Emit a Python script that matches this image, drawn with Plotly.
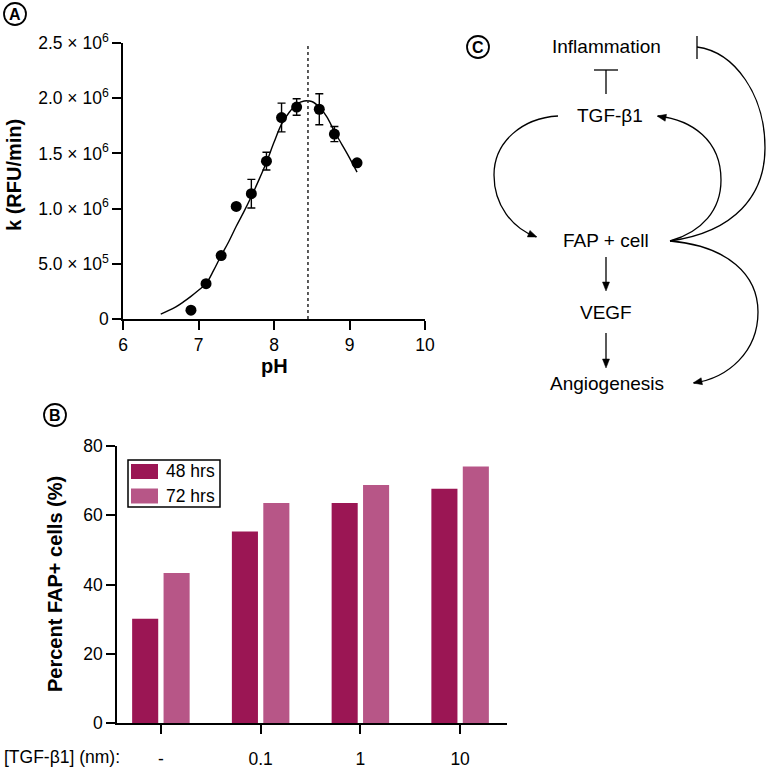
import math
import plotly.graph_objects as go

# ---------------- data ----------------
# Panel A: activity vs pH
ph_points = [6.9, 7.1, 7.3, 7.5, 7.7, 7.9, 8.1, 8.3, 8.6, 8.8, 9.1]
k_points = [0.08e6, 0.32e6, 0.575e6, 1.02e6, 1.135e6, 1.43e6, 1.825e6, 1.92e6, 1.90e6, 1.675e6, 1.415e6]
k_errors = [0, 0, 0, 0, 0.13e6, 0.08e6, 0.13e6, 0.075e6, 0.14e6, 0.068e6, 0]
ph_fit = [6.5, 6.6, 6.7, 6.8, 6.9, 7.0, 7.1, 7.2, 7.3, 7.4, 7.5, 7.6, 7.7, 7.8, 7.9,
          8.0, 8.1, 8.2, 8.3, 8.4, 8.5, 8.6, 8.7, 8.8, 8.9, 9.0, 9.1]
k_fit = [0.045e6, 0.075e6, 0.11e6, 0.155e6, 0.205e6, 0.26e6, 0.32e6, 0.44e6, 0.575e6, 0.70e6,
         0.84e6, 0.97e6, 1.11e6, 1.26e6, 1.42e6, 1.60e6, 1.765e6, 1.87e6, 1.945e6, 1.975e6,
         1.97e6, 1.92e6, 1.83e6, 1.70e6, 1.58e6, 1.46e6, 1.33e6]
ph_optimum = 8.45
a_yticks = [0, 0.5e6, 1.0e6, 1.5e6, 2.0e6, 2.5e6]
a_yticktext = ["0", "5.0 × 10<sup>5</sup>", "1.0 × 10<sup>6</sup>", "1.5 × 10<sup>6</sup>",
               "2.0 × 10<sup>6</sup>", "2.5 × 10<sup>6</sup>"]
a_xticks = [6, 7, 8, 9, 10]

# Panel B: percent FAP+ cells
tgf_doses = ["-", "0.1", "1", "10"]
pct_48h = [30.1, 55.3, 63.5, 67.6]
pct_72h = [43.3, 63.5, 68.7, 74.0]
b_yticks = [0, 20, 40, 60, 80]

# ---------------- helpers ----------------
W, H = 767, 772
FONT = "Liberation Sans"
COL48 = "#9B1654"
COL72 = "#B75687"


def px(x):
    return x / W


def py(y):
    return 1 - y / H


def bez_path(points):
    """points: start then triplets of (c1, c2, end) in pixel coords"""
    s = f"M {px(points[0][0])},{py(points[0][1])}"
    for i in range(1, len(points), 3):
        c1, c2, e = points[i], points[i + 1], points[i + 2]
        s += f" C {px(c1[0])},{py(c1[1])} {px(c2[0])},{py(c2[1])} {px(e[0])},{py(e[1])}"
    return s


def arrow_head(tip, frm, L=9, w=3.5):
    dx, dy = tip[0] - frm[0], tip[1] - frm[1]
    n = math.hypot(dx, dy)
    dx, dy = dx / n, dy / n
    bx, by = tip[0] - L * dx, tip[1] - L * dy
    nx, ny = -dy, dx
    p1 = (bx + w * nx, by + w * ny)
    p2 = (bx - w * nx, by - w * ny)
    return (f"M {px(tip[0])},{py(tip[1])} L {px(p1[0])},{py(p1[1])} "
            f"L {px(p2[0])},{py(p2[1])} Z")


def text(txt, x, y, size, xanchor="center", angle=0):
    return dict(x=px(x), y=py(y), xref="paper", yref="paper", text=txt, showarrow=False,
                xanchor=xanchor, yanchor="middle", textangle=angle,
                font=dict(family=FONT, size=size, color="black"))


fig = go.Figure()

# ---------------- Panel A ----------------
fig.add_trace(go.Scatter(x=ph_fit, y=k_fit, mode="lines", line=dict(color="black", width=1.4, shape="spline"),
                         xaxis="x", yaxis="y", showlegend=False, hoverinfo="skip"))
fig.add_trace(go.Scatter(x=[ph_optimum, ph_optimum], y=[0, a_yticks[-1]], mode="lines",
                         line=dict(color="#333333", width=1.6, dash="dot"),
                         xaxis="x", yaxis="y", showlegend=False, hoverinfo="skip"))
fig.add_trace(go.Scatter(x=ph_points, y=k_points, mode="markers",
                         marker=dict(color="black", size=11),
                         error_y=dict(type="data", array=k_errors, visible=True, color="black",
                                      thickness=1.4, width=4),
                         xaxis="x", yaxis="y", showlegend=False))

# ---------------- Panel B ----------------
fig.add_trace(go.Bar(x=tgf_doses, y=pct_48h, name="48 hrs", marker=dict(color=COL48, line=dict(width=0)),
                     xaxis="x2", yaxis="y2", showlegend=False))
fig.add_trace(go.Bar(x=tgf_doses, y=pct_72h, name="72 hrs", marker=dict(color=COL72, line=dict(width=0)),
                     xaxis="x2", yaxis="y2", showlegend=False))

tickfont = dict(family=FONT, size=17.5, color="black")
axis_common = dict(showgrid=False, zeroline=False, showline=True, linecolor="black", linewidth=1.5,
                   ticks="outside", ticklen=9, tickwidth=1.5, tickcolor="black", tickfont=tickfont,
                   automargin=False)

fig.update_layout(
    template="none",
    width=W, height=H, margin=dict(l=0, r=0, t=0, b=0, pad=0, autoexpand=False),
    paper_bgcolor="white", plot_bgcolor="white",
    barmode="group", bargap=0.37, bargroupgap=0.17,
    xaxis=dict(domain=[px(123), px(425)], range=[6, 10], tickvals=a_xticks, anchor="y", **axis_common),
    yaxis=dict(domain=[py(319), py(43)], range=[0, 2.5e6], tickvals=a_yticks, ticktext=a_yticktext,
               anchor="x", **axis_common),
    xaxis2=dict(domain=[px(117), px(507)], range=[-0.44, 3.47], type="category", anchor="y2",
                ticklabelstandoff=10, **axis_common),
    yaxis2=dict(domain=[py(723.3), py(445.7)], range=[0, 80], tickvals=b_yticks, anchor="x2", **axis_common),
)

shapes = []
annotations = []

# axis titles
annotations.append(text("<b>k (RFU/min)</b>", 14, 175, 20, angle=-90))
annotations.append(text("<b>pH</b>", 274, 366, 20))
annotations.append(text("<b>Percent FAP+ cells (%)</b>", 55, 584, 20, angle=-90))
annotations.append(text("[TGF-β1] (nm):", 122, 757, 17.5, xanchor="right"))

# circled panel letters
for letter, cx, cy in [("A", 15, 14), ("B", 55, 415), ("C", 478, 47)]:
    r = 11
    shapes.append(dict(type="circle", xref="paper", yref="paper", x0=px(cx - r), x1=px(cx + r),
                       y0=py(cy + r), y1=py(cy - r), line=dict(color="black", width=1.8)))
    annotations.append(text(f"<b>{letter}</b>", cx, cy + 0.5, 16))

# legend for panel B
shapes.append(dict(type="rect", xref="paper", yref="paper", x0=px(128), x1=px(220), y0=py(507), y1=py(460),
                   line=dict(color="black", width=1.5), fillcolor="white"))
for i, (lab, col) in enumerate([("48 hrs", COL48), ("72 hrs", COL72)]):
    yc = 471.5 + 24.5 * i
    shapes.append(dict(type="rect", xref="paper", yref="paper", x0=px(131), x1=px(158),
                       y0=py(yc + 7.5), y1=py(yc - 7.5), line=dict(width=0), fillcolor=col))
    annotations.append(text(lab, 164, yc, 17.5, xanchor="left"))

# ---------------- Panel C diagram ----------------
for txt, x, y in [("Inflammation", 606, 47), ("TGF-β1", 610, 116), ("FAP + cell", 606, 240),
                  ("VEGF", 606, 312), ("Angiogenesis", 607, 383)]:
    annotations.append(text(txt, x, y, 19))

line = dict(color="black", width=1.3)
# inhibition T under Inflammation
shapes.append(dict(type="line", xref="paper", yref="paper", x0=px(594), x1=px(618), y0=py(70), y1=py(70), line=line))
shapes.append(dict(type="line", xref="paper", yref="paper", x0=px(606), x1=px(606), y0=py(70), y1=py(94), line=line))
# inhibition bar at right of Inflammation
shapes.append(dict(type="line", xref="paper", yref="paper", x0=px(697), x1=px(697), y0=py(36), y1=py(59), line=line))

curves = [
    # TGF-b1 -> FAP (left loop)
    [(558, 116), (522, 118), (494, 142), (494, 175), (494, 205), (512, 228), (536, 237)],
    # FAP -> TGF-b1 (right loop)
    [(670, 241), (702, 232), (721, 210), (721, 180), (721, 140), (692, 120), (658, 116)],
    # FAP -> Inflammation (inhibition)
    [(670, 241), (735, 232), (765, 195), (765, 148), (765, 95), (735, 52), (697, 47)],
    # FAP -> Angiogenesis
    [(670, 241), (728, 246), (758, 275), (758, 312), (758, 352), (728, 378), (694, 383)],
]
for c in curves:
    shapes.append(dict(type="path", xref="paper", yref="paper", path=bez_path(c), line=line))

heads = [((537, 237), (522, 231)), ((657, 116), (672, 119)), ((693, 383), (708, 380)),
         ((606, 291), (606, 280)), ((606, 368), (606, 357))]
for tip, frm in heads:
    shapes.append(dict(type="path", xref="paper", yref="paper", path=arrow_head(tip, frm),
                       fillcolor="black", line=dict(color="black", width=0.5)))
# straight arrow shafts
shapes.append(dict(type="line", xref="paper", yref="paper", x0=px(606), x1=px(606), y0=py(257), y1=py(284), line=line))
shapes.append(dict(type="line", xref="paper", yref="paper", x0=px(606), x1=px(606), y0=py(333), y1=py(361), line=line))

fig.update_layout(shapes=shapes, annotations=annotations)
fig.write_html("out.html", config={"displayModeBar": False},
               post_script="document.body.style.margin='0';document.body.style.padding='0';")
